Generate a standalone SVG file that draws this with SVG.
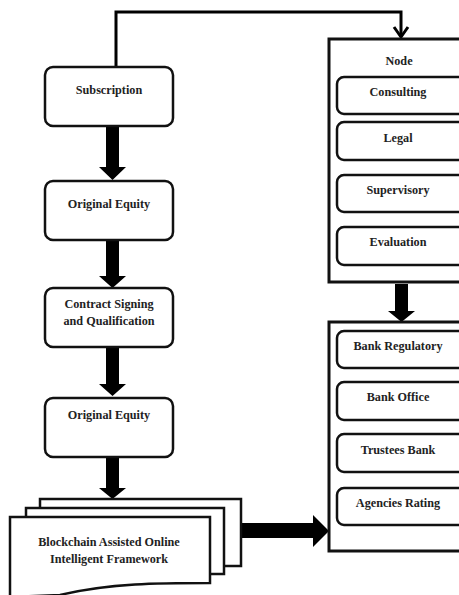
<svg xmlns="http://www.w3.org/2000/svg" width="459" height="595" viewBox="0 0 459 595">
<style>
.box{fill:#fff;stroke:#111;stroke-width:2.5}
.frame{fill:#fff;stroke:#111;stroke-width:3}
.t{font-family:"Liberation Serif","Times New Roman",serif;font-weight:bold;font-size:12.2px;fill:#222;text-anchor:middle;dominant-baseline:central}
.big{fill:#000}
</style>
<rect width="459" height="595" fill="#fff"/>
<g id="connectors">
<path d="M116,67 V12 H401 V37" fill="none" stroke="#000" stroke-width="3"/>
<path d="M394,27 L401,37 L408,27" fill="none" stroke="#000" stroke-width="3"/>
<polygon class="big" points="106,126 119,126 119,167 126,167 112.5,180 99,167 106,167"/>
<polygon class="big" points="106,240 119,240 119,276 126,276 112.5,288 99,276 106,276"/>
<polygon class="big" points="106,347 119,347 119,384 126,384 112.5,396 99,384 106,384"/>
<polygon class="big" points="106,457 119,457 119,488 126,488 112.5,499 99,488 106,488"/>
<polygon class="big" points="395,284 408,284 408,311 415,311 401.5,322 388,311 395,311"/>
<polygon class="big" points="241,523 313,523 313,515 329,531 313,547 313,538 241,538"/>
</g>
<g id="subscription">
<rect class="box" x="45" y="67" width="128" height="59" rx="8"/>
<text class="t" x="109" y="90">Subscription</text>
</g>
<g id="original-equity-1">
<rect class="box" x="45" y="181" width="128" height="59" rx="8"/>
<text class="t" x="109" y="204">Original Equity</text>
</g>
<g id="contract">
<rect class="box" x="45" y="288" width="128" height="59" rx="8"/>
<text class="t" x="109" y="304">Contract Signing</text>
<text class="t" x="109" y="321">and Qualification</text>
</g>
<g id="original-equity-2">
<rect class="box" x="45" y="398" width="128" height="59" rx="8"/>
<text class="t" x="109" y="415">Original Equity</text>
</g>
<g id="framework">
<rect class="box" x="40" y="499" width="201" height="67"/>
<rect class="box" x="26" y="508" width="198" height="66"/>
<path class="box" d="M10,517 H210 V583 C160,583 110,583 60,595 L10,597 Z"/>
<text class="t" x="109" y="542" font-size="13.3">Blockchain Assisted Online</text>
<text class="t" x="109" y="559" font-size="13.3">Intelligent Framework</text>
</g>
<g id="node-group">
<rect class="frame" x="329" y="39" width="140" height="243"/>
<text class="t" x="399" y="61" font-size="11.3">Node</text>
</g>
<g id="consulting">
<rect class="box" x="337" y="77" width="130" height="37" rx="7"/>
<text class="t" x="398" y="92">Consulting</text>
</g>
<g id="legal">
<rect class="box" x="337" y="122" width="130" height="38" rx="7"/>
<text class="t" x="398" y="138">Legal</text>
</g>
<g id="supervisory">
<rect class="box" x="337" y="175" width="130" height="37" rx="7"/>
<text class="t" x="398" y="190">Supervisory</text>
</g>
<g id="evaluation">
<rect class="box" x="337" y="227" width="130" height="38" rx="7"/>
<text class="t" x="398" y="242">Evaluation</text>
</g>
<g id="bank-group">
<rect class="frame" x="329" y="322" width="140" height="229"/>
</g>
<g id="bank-regulatory">
<rect class="box" x="337" y="331" width="130" height="37" rx="7"/>
<text class="t" x="398" y="346">Bank Regulatory</text>
</g>
<g id="bank-office">
<rect class="box" x="337" y="382" width="130" height="38" rx="7"/>
<text class="t" x="398" y="397">Bank Office</text>
</g>
<g id="trustees-bank">
<rect class="box" x="337" y="434" width="130" height="38" rx="7"/>
<text class="t" x="398" y="450">Trustees Bank</text>
</g>
<g id="agencies-rating">
<rect class="box" x="337" y="488" width="130" height="37" rx="7"/>
<text class="t" x="398" y="503">Agencies Rating</text>
</g>
</svg>
